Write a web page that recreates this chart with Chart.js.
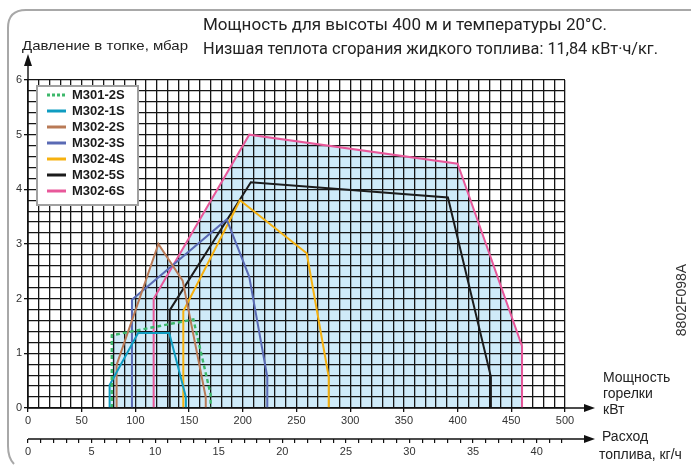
<!DOCTYPE html>
<html>
<head>
<meta charset="utf-8">
<script src="https://cdn.jsdelivr.net/npm/chart.js@4.4.0/dist/chart.umd.min.js"></script>
<style>
	html, body { margin: 0; padding: 0; background: #fff; }
	#wrap { width: 691px; height: 466px; }
</style>
</head>
<body>
<div id="wrap"><canvas id="chart" width="691" height="466"></canvas></div>
<script>
// burner names and line colours
const names = ['M301-2S', 'M302-1S', 'M302-2S', 'M302-3S', 'M302-4S', 'M302-5S', 'M302-6S'];
const colors = ['#3db86b', '#0f9cc1', '#b97a56', '#5a6ab4', '#f6b10f', '#1b1b1b', '#e8589a'];

// working fields: burner power (kW) and furnace pressure (mbar)
const kw_m301_2s = [78, 78, 154, 170, 170];
const mbar_m301_2s = [0, 1.33, 1.62, 0.25, 0];
const kw_m302_1s = [76, 76, 102.5, 131.5, 147, 147];
const mbar_m302_1s = [0, 0.42, 1.37, 1.37, 0.2, 0];
const kw_m302_2s = [82.5, 82.5, 121.4, 144, 165.5, 165.5];
const mbar_m302_2s = [0, 0.79, 3.0, 2.33, 0.2, 0];
const kw_m302_3s = [96.8, 96.8, 185, 206, 222.8, 222.8];
const mbar_m302_3s = [0, 1.98, 3.45, 2.4, 0.57, 0];
const kw_m302_4s = [144.6, 144.6, 197.4, 259.5, 280, 280];
const mbar_m302_4s = [0, 1.77, 3.8, 2.83, 0.57, 0];
const kw_m302_5s = [132, 132, 207.5, 391, 431, 431];
const mbar_m302_5s = [0, 1.79, 4.13, 3.85, 0.57, 0];
const kw_m302_6s = [117, 117, 206, 400, 460, 460];
const mbar_m302_6s = [0, 2.0, 5.0, 4.47, 1.13, 0];

// tick labels
const kwLabels = [0, 50, 100, 150, 200, 250, 300, 350, 400, 450, 500];
const fuelLabels = [0, 5, 10, 15, 20, 25, 30, 35, 40];
const mbarLabels = [0, 1, 2, 3, 4, 5, 6];

const heatValue = 11.84; // kWh/kg
const fillColor = '#cfebf9';

const kwSeries = [kw_m301_2s, kw_m302_1s, kw_m302_2s, kw_m302_3s, kw_m302_4s, kw_m302_5s, kw_m302_6s];
const mbarSeries = [mbar_m301_2s, mbar_m302_1s, mbar_m302_2s, mbar_m302_3s, mbar_m302_4s, mbar_m302_5s, mbar_m302_6s];

var datasets = names.map((name, i) => ({
	label: name,
	data: kwSeries[i].map((x, j) => ({ x: x, y: mbarSeries[i][j] })),
	borderColor: colors[i],
	borderWidth: i == 0 ? 2.4 : 2,
	borderDash: i == 0 ? [4, 3] : [],
	backgroundColor: fillColor,
	fill: 'origin',
	pointRadius: 0,
	tension: 0
}));

const near = (v, list) => list.some(t => Math.abs(t - v) < 1e-6);

// fit text into given width by squeezing horizontally
function fitText(ctx, text, x, y, width) {
	var w = ctx.measureText(text).width;
	ctx.save();
	ctx.translate(x, y);
	ctx.scale(width / w, 1);
	ctx.fillText(text, 0, 0);
	ctx.restore();
}

const decor = {
	id: 'decor',
	afterDraw(chart) {
		const ctx = chart.ctx;
		const area = chart.chartArea;
		const x0 = area.left, yb = area.bottom;
		const y2 = chart.scales.x2.top;
		ctx.save();

		// rounded frame
		ctx.strokeStyle = '#a8a8a8';
		ctx.lineWidth = 2;
		ctx.beginPath();
		ctx.moveTo(691, 10);
		ctx.lineTo(26, 10);
		ctx.quadraticCurveTo(8, 10, 8, 28);
		ctx.lineTo(8, 446);
		ctx.quadraticCurveTo(8, 458, 14, 464);
		ctx.stroke();

		// axis lines and arrows
		ctx.strokeStyle = '#111';
		ctx.fillStyle = '#111';
		ctx.lineWidth = 1.4;
		ctx.beginPath();
		ctx.moveTo(x0, yb); ctx.lineTo(x0, 62);
		ctx.moveTo(x0, yb); ctx.lineTo(587, yb);
		ctx.moveTo(x0, y2); ctx.lineTo(587, y2);
		ctx.stroke();
		ctx.beginPath();
		ctx.moveTo(x0, 54); ctx.lineTo(x0 - 4, 66); ctx.lineTo(x0 + 4, 66); ctx.closePath();
		ctx.moveTo(595, yb); ctx.lineTo(584, yb - 4); ctx.lineTo(584, yb + 4); ctx.closePath();
		ctx.moveTo(595, y2); ctx.lineTo(584, y2 - 4); ctx.lineTo(584, y2 + 4); ctx.closePath();
		ctx.fill();

		// titles
		ctx.fillStyle = '#222';
		ctx.textBaseline = 'middle';
		ctx.textAlign = 'left';
		ctx.font = '16px Roboto';
		fitText(ctx, 'Мощность для высоты 400 м и температуры 20°C.', 203, 26, 404);
		fitText(ctx, 'Низшая теплота сгорания жидкого топлива: 11,84 кВт·ч/кг.', 203, 50, 455);

		ctx.font = '13px "Liberation Sans", Arial';
		fitText(ctx, 'Давление в топке, мбар', 22, 46, 166);

		ctx.font = '14px "Liberation Sans", Arial';
		ctx.fillText('Мощность', 603, 378);
		ctx.fillText('горелки', 603, 394);
		ctx.fillText('кВт', 603, 410);
		ctx.fillText('Расход', 602, 437);
		ctx.fillText('топлива, кг/ч', 599, 455);

		// drawing code
		ctx.save();
		ctx.translate(682, 300);
		ctx.rotate(-Math.PI / 2);
		ctx.textAlign = 'center';
		ctx.font = '14px "Liberation Sans", Arial';
		ctx.fillStyle = '#333';
		ctx.fillText('8802F098A', 0, 0);
		ctx.restore();

		// legend box
		ctx.fillStyle = '#fff';
		ctx.fillRect(37, 86, 101, 119);
		ctx.strokeStyle = '#a0a0a0';
		ctx.lineWidth = 2;
		ctx.strokeRect(37, 86, 101, 119);
		ctx.font = 'bold 13px "Liberation Sans", Arial';
		chart.data.datasets.forEach((ds, i) => {
			var y = 95 + i * 16;
			ctx.strokeStyle = ds.borderColor;
			ctx.lineWidth = 3;
			ctx.setLineDash(i == 0 ? [3, 2] : []);
			ctx.beginPath();
			ctx.moveTo(47, y); ctx.lineTo(66, y);
			ctx.stroke();
			ctx.setLineDash([]);
			ctx.fillStyle = '#1a1a1a';
			ctx.fillText(ds.label, 72, y + 0.5);
		});
		ctx.restore();
	}
};

const tickFont = { family: '"Liberation Sans", Arial', size: 11 };

new Chart(document.getElementById('chart'), {
	type: 'line',
	data: { datasets: datasets },
	options: {
		responsive: false,
		animation: false,
		layout: { padding: { top: 80, right: 126, bottom: 0, left: 0 } },
		plugins: {
			legend: { display: false },
			tooltip: { enabled: false },
			filler: { drawTime: 'beforeDraw' }
		},
		scales: {
			x: {
				type: 'linear',
				position: 'bottom',
				min: 0,
				max: 500,
				afterFit: s => { s.height = 31; },
				ticks: {
					stepSize: 10,
					autoSkip: false,
					maxRotation: 0,
					padding: 2,
					color: '#333',
					font: tickFont,
					callback: v => near(v, kwLabels) ? String(v) : ''
				},
				grid: {
					color: '#151515',
					lineWidth: 1.3,
					tickLength: 4,
					tickColor: c => near(c.tick.value, kwLabels) ? '#111' : 'rgba(0,0,0,0)'
				},
				border: { display: false }
			},
			x2: {
				type: 'linear',
				position: 'bottom',
				min: 0,
				max: 500 / heatValue,
				afterFit: s => { s.height = 27; },
				ticks: {
					stepSize: 1,
					includeBounds: false,
					autoSkip: false,
					maxRotation: 0,
					padding: 2,
					color: '#333',
					font: tickFont,
					callback: v => near(v, fuelLabels) ? String(v) : ''
				},
				grid: {
					drawOnChartArea: false,
					tickLength: 4,
					tickColor: '#111',
					lineWidth: 1.2
				},
				border: { display: false }
			},
			y: {
				type: 'linear',
				min: 0,
				max: 6,
				afterFit: s => { s.width = 28; },
				ticks: {
					stepSize: 0.2,
					autoSkip: false,
					padding: 2,
					color: '#333',
					font: tickFont,
					callback: v => near(v, mbarLabels) ? String(Math.round(v)) : ''
				},
				grid: {
					color: '#151515',
					lineWidth: 1.3,
					tickLength: 4,
					tickColor: c => near(c.tick.value, mbarLabels) ? '#111' : 'rgba(0,0,0,0)'
				},
				border: { display: false }
			}
		}
	},
	plugins: [decor]
});
</script>
</body>
</html>
